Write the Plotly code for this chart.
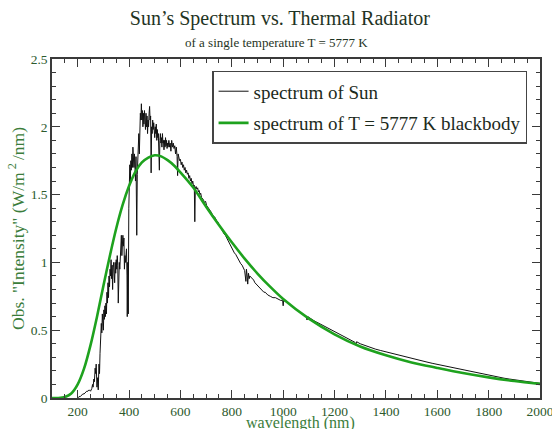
import plotly.graph_objects as go

# ---- data ----
sun_wl = [200, 205, 210, 215, 220, 225, 230, 235, 240, 245, 250, 255, 258, 260, 263, 265, 268, 270, 272, 275,
          278, 280, 283, 285, 287, 290, 292, 294, 296, 298, 300, 302, 304, 306, 308, 310, 312, 314, 316, 318,
          320, 322, 324, 326, 328, 330, 332, 334, 336, 338, 340, 342, 344, 346, 348, 350, 352, 354, 356, 358,
          360, 362, 364, 366, 368, 370, 372, 374, 376, 378, 380, 382, 384, 386, 388, 390, 392, 393, 395, 397,
          399, 401, 403, 405, 407, 409, 411, 413, 415, 417, 419, 421, 423, 425, 427, 429, 430, 432, 434, 436,
          438, 440, 442, 444, 446, 448, 450, 452, 454, 456, 458, 460, 462, 464, 466, 468, 470, 472, 474, 476,
          478, 480, 482, 484, 486, 488, 490, 492, 494, 496, 498, 500, 502, 504, 506, 508, 510, 512, 514, 516,
          518, 520, 522, 524, 526, 528, 530, 532, 534, 536, 538, 540, 542, 544, 546, 548, 550, 552, 555, 558,
          560, 563, 566, 569, 572, 575, 578, 581, 584, 587, 589, 591, 594, 597, 600, 603, 606, 609, 612, 615,
          618, 621, 624, 627, 630, 633, 636, 639, 642, 645, 648, 651, 654, 656, 658, 661, 664, 667, 670, 673,
          676, 679, 682, 686, 690, 694, 698, 702, 706, 710, 715, 720, 725, 730, 735, 740, 745, 750, 755, 760,
          765, 770, 775, 780, 785, 790, 795, 800, 805, 810, 815, 820, 825, 830, 835, 840, 845, 850, 855, 857,
          860, 862, 865, 868, 870, 875, 880, 885, 890, 895, 900, 905, 910, 915, 920, 925, 930, 935, 940, 950,
          960, 970, 980, 990, 998, 1000, 1002, 1010, 1020, 1030, 1040, 1050, 1060, 1070, 1080, 1090, 1093, 1096,
          1100, 1110, 1120, 1130, 1140, 1150, 1160, 1170, 1180, 1190, 1200, 1210, 1220, 1230, 1240, 1250, 1260,
          1270, 1280, 1283, 1286, 1300, 1320, 1340, 1360, 1380, 1400, 1420, 1440, 1460, 1480, 1500, 1520, 1540,
          1560, 1580, 1600, 1620, 1640, 1660, 1680, 1700, 1720, 1740, 1760, 1780, 1800, 1820, 1840, 1860, 1880,
          1900, 1920, 1940, 1960, 1980, 2000]
sun_val = [0.00, 0.01, 0.01, 0.02, 0.03, 0.03, 0.04, 0.05, 0.05, 0.06, 0.05, 0.07, 0.10, 0.08, 0.14, 0.12, 0.22, 0.18, 0.25, 0.08,
           0.15, 0.06, 0.25, 0.18, 0.33, 0.45, 0.55, 0.48, 0.62, 0.55, 0.50, 0.65, 0.58, 0.68, 0.60, 0.70, 0.62, 0.78, 0.70, 0.85,
           0.74, 0.90, 0.82, 0.95, 0.90, 1.02, 0.88, 0.98, 0.80, 0.96, 1.00, 0.92, 0.85, 1.00, 0.92, 1.02, 0.95, 1.05, 0.98, 0.70,
           0.98, 1.00, 0.95, 1.10, 1.15, 1.20, 1.05, 1.10, 1.20, 1.12, 1.18, 0.95, 1.05, 1.00, 1.08, 1.10, 0.90, 0.60, 1.00, 0.62,
           1.40, 1.60, 1.72, 1.60, 1.75, 1.68, 1.80, 1.70, 1.85, 1.75, 1.70, 1.80, 1.72, 1.60, 1.78, 1.55, 1.20, 1.65, 1.75, 1.85,
           1.95, 1.80, 2.00, 2.10, 2.05, 2.17, 2.05, 2.12, 2.00, 2.10, 2.02, 2.12, 2.05, 1.98, 2.10, 2.00, 2.08, 1.95, 2.05, 2.00,
           2.10, 2.15, 2.05, 2.08, 1.66, 2.00, 1.95, 2.05, 1.98, 2.03, 1.95, 1.92, 2.00, 1.95, 2.02, 1.90, 1.98, 1.92, 1.95, 1.80,
           1.68, 1.90, 1.95, 1.88, 1.92, 1.85, 1.95, 1.88, 1.90, 1.83, 1.90, 1.85, 1.92, 1.86, 1.90, 1.84, 1.88, 1.85, 1.90, 1.85,
           1.88, 1.82, 1.90, 1.85, 1.88, 1.84, 1.86, 1.80, 1.85, 1.78, 1.64, 1.80, 1.78, 1.75, 1.76, 1.72, 1.74, 1.70, 1.72, 1.68,
           1.70, 1.66, 1.68, 1.65, 1.66, 1.62, 1.64, 1.60, 1.62, 1.58, 1.60, 1.56, 1.57, 1.30, 1.55, 1.56, 1.54, 1.55, 1.52, 1.53,
           1.50, 1.51, 1.48, 1.47, 1.46, 1.44, 1.45, 1.42, 1.41, 1.40, 1.38, 1.37, 1.35, 1.34, 1.33, 1.31, 1.30, 1.28, 1.26, 1.24,
           1.23, 1.21, 1.20, 1.18, 1.16, 1.14, 1.13, 1.11, 1.09, 1.07, 1.06, 1.04, 1.02, 1.01, 0.99, 0.98, 0.96, 0.94, 0.86, 0.95,
           0.90, 0.84, 0.92, 0.88, 0.90, 0.89, 0.88, 0.87, 0.85, 0.84, 0.83, 0.82, 0.81, 0.80, 0.79, 0.78, 0.78, 0.77, 0.76, 0.75,
           0.74, 0.74, 0.73, 0.72, 0.72, 0.68, 0.72, 0.71, 0.70, 0.68, 0.67, 0.655, 0.64, 0.625, 0.61, 0.60, 0.575, 0.60,
           0.595, 0.58, 0.57, 0.56, 0.55, 0.54, 0.53, 0.515, 0.505, 0.495, 0.485, 0.475, 0.465, 0.458, 0.45, 0.44, 0.43,
           0.42, 0.41, 0.39, 0.415, 0.40, 0.385, 0.37, 0.36, 0.35, 0.34, 0.33, 0.32, 0.31, 0.30, 0.29, 0.282, 0.273,
           0.265, 0.256, 0.248, 0.24, 0.232, 0.222, 0.214, 0.205, 0.197, 0.189, 0.181, 0.173, 0.165, 0.158, 0.152, 0.146, 0.14,
           0.135, 0.128, 0.122, 0.117, 0.112, 0.108]

bb_wl = [100, 125, 150, 175, 200, 225, 250, 275, 300, 325, 350, 375, 400, 425, 450, 475, 500, 525, 550, 575,
         600, 650, 700, 750, 800, 850, 900, 950, 1000, 1100, 1200, 1300, 1400, 1500, 1600, 1700, 1800, 1900, 2000]
bb_val = [0.0, 0.0, 0.007, 0.033, 0.10, 0.218, 0.39, 0.598, 0.826, 1.046, 1.25, 1.424, 1.563, 1.67, 1.737, 1.773, 1.79, 1.782, 1.754, 1.715,
          1.664, 1.552, 1.411, 1.276, 1.148, 1.028, 0.918, 0.819, 0.73, 0.585, 0.47, 0.38, 0.315, 0.262, 0.222, 0.184, 0.152, 0.125, 0.104]

title_text = "Sun\u2019s Spectrum vs. Thermal Radiator"
subtitle_text = "of a single temperature T = 5777 K"
x_title = "wavelength (nm)"
y_title = "Obs. \"Intensity\" (W/m<sup> 2 </sup>/nm)"
sun_name = "spectrum of Sun"
bb_name = "spectrum of T = 5777 K blackbody"

SERIF = "Liberation Serif, Times New Roman, serif"

fig = go.Figure()
fig.add_trace(go.Scatter(x=sun_wl, y=sun_val, mode="lines", name=sun_name,
                         line=dict(color="#111111", width=1), legendgroup="a"))
fig.add_trace(go.Scatter(x=bb_wl, y=bb_val, mode="lines", name=bb_name,
                         line=dict(color="#1ea21e", width=2.6, shape="spline", smoothing=0.8),
                         legendgroup="b"))

axis_common = dict(
    showline=True, linecolor="#3a3a3a", linewidth=1.5, mirror="ticks",
    ticks="inside", ticklen=8, tickwidth=1.2, tickcolor="#3a3a3a",
    showgrid=False, zeroline=False, ticklabeloverflow="allow",
    tickfont=dict(family=SERIF, size=13.5, color="#2d5a2d"),
)

fig.update_xaxes(range=[100, 2000], tick0=0, dtick=200,
                 minor=dict(dtick=50, ticks="inside", ticklen=4, tickwidth=1, tickcolor="#3a3a3a"),
                 **axis_common)
fig.update_yaxes(range=[0, 2.5], tick0=0, dtick=0.5,
                 minor=dict(dtick=0.1, ticks="inside", ticklen=4, tickwidth=1, tickcolor="#3a3a3a"),
                 title=dict(text=y_title, font=dict(family=SERIF, size=17.5, color="#3b7d3b"), standoff=2),
                 **axis_common)

fig.add_annotation(text=x_title, xref="paper", yref="paper", x=0.51, y=-0.074,
                   xanchor="center", yanchor="middle", showarrow=False,
                   font=dict(family=SERIF, size=16, color="#3b7d3b"))
fig.add_annotation(text=subtitle_text, xref="paper", yref="paper", x=0.46, y=1.05,
                   xanchor="center", yanchor="middle", showarrow=False,
                   font=dict(family=SERIF, size=13, color="#1f3424"))

fig.update_layout(
    width=552, height=429,
    margin=dict(l=52, r=12, t=59, b=31, autoexpand=False),
    paper_bgcolor="white", plot_bgcolor="white",
    title=dict(text=title_text, x=0.507, xanchor="center", y=0.958, yanchor="middle", yref="container",
               font=dict(family=SERIF, size=20, color="#1f3424")),
    legend=dict(x=0.328, y=0.965, xanchor="left", yanchor="top",
                bordercolor="#444444", borderwidth=1.5, bgcolor="white",
                font=dict(family=SERIF, size=19, color="#1c2a1c"),
                tracegroupgap=4, itemwidth=30),
    showlegend=True,
)

fig.write_html("out.html")
